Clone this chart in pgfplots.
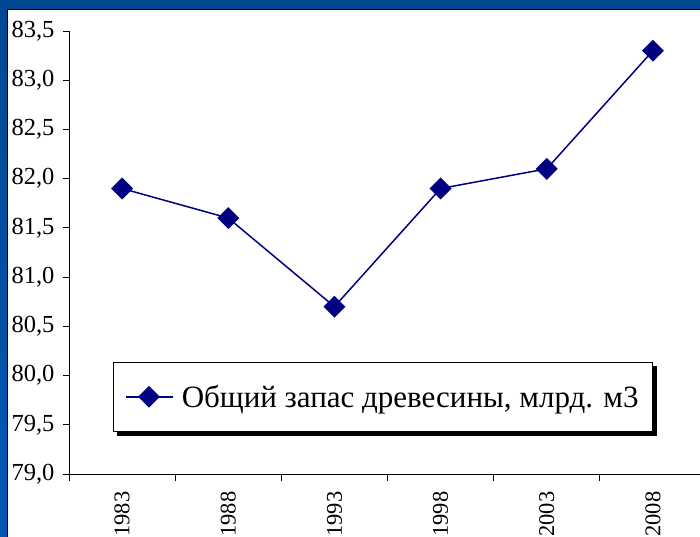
\documentclass[border=0pt]{standalone}
\usepackage{pgfplots}
\pgfplotsset{compat=1.18}
\usepackage{fontspec}
\setmainfont{Liberation Serif}
\definecolor{navy}{RGB}{0,0,128}
\definecolor{bgtop}{RGB}{0,72,145}
\definecolor{bgbot}{RGB}{0,88,180}
\begin{document}
\begin{tikzpicture}[x=1pt,y=1pt]
\useasboundingbox (0,0) rectangle (700,537);
\clip (0,0) rectangle (700,537);
\shade[top color=bgtop,bottom color=bgbot] (0,0) rectangle (700,537);
\filldraw[fill=white,draw=black,line width=1pt] (7,-10) rectangle (720,527.5);
\begin{axis}[
  at={(69pt,63pt)}, anchor=south west,
  scale only axis, width=637pt, height=443pt,
  xmin=-0.5, xmax=5.5, ymin=79, ymax=83.5,
  axis x line*=bottom, axis y line*=left,
  axis line style={black, line width=0.8pt},
  xtick={0,...,5},
  xticklabels={1983,1988,1993,1998,2003,2008},
  major x tick style={draw=none},
  minor xtick={-0.5,0.5,1.5,2.5,3.5,4.5,5.5},
  minor tick length=7pt,
  major tick length=6pt,
  tick align=outside,
  tick style={black, line width=0.8pt},
  ytick={79,79.5,...,83.5},
  /pgf/number format/use comma,
  /pgf/number format/fixed,
  /pgf/number format/fixed zerofill,
  /pgf/number format/precision=1,
  /pgf/number format/assume math mode=true,
  yticklabel style={font=\fontsize{24.5}{28}\selectfont, xshift=-5pt},
  xticklabel style={font=\fontsize{22.5}{26}\selectfont, rotate=90, anchor=east, xshift=-8pt},
  legend style={name=leg, at={(0.069,0.095)}, anchor=south west, draw=black, line width=0.6pt,
    fill=white,
    font=\fontsize{31}{35}\selectfont, inner xsep=12pt, inner ysep=21pt,
    /tikz/every odd column/.append style={column sep=6pt}},
  legend image code/.code={\draw[#1,mark repeat=2,mark phase=2] plot coordinates {(0pt,0pt) (23pt,0pt) (47pt,0pt)};},
  clip=false,
]
\addplot[navy, line width=1.5pt, mark=square*, mark size=7pt, mark options={rotate=45, solid, fill=navy}]
  coordinates {(0,81.9) (1,81.6) (2,80.7) (3,81.9) (4,82.1) (5,83.3)};
\addlegendentry{Общий запас древесины, млрд. м3}
\end{axis}
\fill[black] ([shift={(0.3pt,-4pt)}]leg.north east) rectangle ([shift={(4.3pt,-4.3pt)}]leg.south east);
\fill[black] ([shift={(4pt,-0.3pt)}]leg.south west) rectangle ([shift={(4.3pt,-4.3pt)}]leg.south east);
\end{tikzpicture}
\end{document}
